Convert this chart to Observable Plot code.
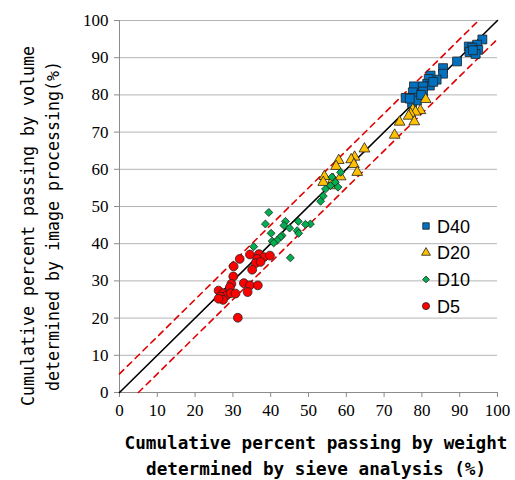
<!DOCTYPE html>
<html>
<head>
<meta charset="utf-8">
<script src="https://cdn.jsdelivr.net/npm/d3@7"></script>
<script src="https://cdn.jsdelivr.net/npm/@observablehq/plot@0.6"></script>
<style>
  html, body { margin: 0; padding: 0; background: #fff; }
  #chart svg { display: block; }
  #chart svg g[aria-label$="tick label"] text,
  #chart svg g[aria-label$="tick label"] {
    font-family: "Liberation Serif", "Times New Roman", serif !important;
    font-size: 17px !important;
  }
  #chart svg text.xtitle {
    font-family: "DejaVu Sans Mono", monospace !important;
    font-weight: bold; font-size: 18px;
  }
  #chart svg text.ytitle {
    font-family: "DejaVu Sans Mono", monospace !important;
    font-size: 18px;
  }
  #chart svg text.legtext {
    font-family: "Liberation Sans", Arial, sans-serif !important;
    font-size: 18px;
  }
</style>
</head>
<body>
<div id="chart"></div>
<script>
// ---- data ----
const ticks = [0, 10, 20, 30, 40, 50, 60, 70, 80, 90, 100];
const seriesNames = ["D40", "D20", "D10", "D5"];

const d40 = [[96.0,94.9],[94.6,93.5],[92.4,93.0],[93.3,92.7],[94.9,92.1],[92.6,91.5],[94.2,91.0],[93.5,92.0],[89.3,89.0],[85.6,87.2],[85.6,85.7],[83.9,84.1],[82.3,85.2],[81.8,84.3],[81.4,83.0],[82.1,82.5],[80.3,82.3],[80.3,80.9],[77.9,82.3],[77.6,80.7],[75.7,79.2],[77.7,79.2],[77.4,77.8],[78.7,78.5],[76.8,79.0],[79.8,80.0],[83.0,83.5]];
const d20 = [[81.0,78.8],[79.6,75.8],[77.6,76.1],[78.3,75.4],[77.0,74.9],[76.5,74.3],[78.0,72.8],[74.1,72.7],[72.8,69.2],[64.8,65.5],[62.2,63.3],[61.3,62.6],[62.0,61.3],[58.0,62.4],[57.3,60.8],[62.9,59.2],[54.2,58.1],[53.9,56.5],[55.8,55.6],[56.5,57.3],[58.5,58.0]];
const d10 = [[58.5,59.2],[56.2,57.9],[57.1,56.5],[55.8,55.6],[57.8,55.2],[54.5,54.7],[53.9,52.8],[53.2,51.4],[39.5,48.4],[38.6,45.3],[43.9,46.0],[43.5,44.9],[47.3,46.0],[50.5,45.3],[49.2,45.2],[47.0,43.5],[47.4,42.8],[45.0,44.2],[43.0,42.2],[40.1,42.8],[42.6,41.8],[40.4,40.7],[41.7,40.9],[40.8,40.2],[35.5,39.2],[45.2,36.2]];
const d5 = [[34.5,37.1],[36.9,37.2],[38.2,36.4],[39.8,36.8],[36.4,35.9],[36.0,34.8],[37.3,35.1],[31.8,35.9],[30.2,33.9],[35.1,33.0],[30.1,31.2],[32.9,29.4],[34.5,28.8],[36.6,28.8],[33.9,27.0],[29.6,29.2],[29.2,28.3],[26.2,27.4],[27.4,26.7],[28.3,26.1],[29.4,26.7],[30.7,26.6],[26.7,25.8],[27.4,24.9],[26.2,25.2],[31.3,20.1]];

// reference lines: 1:1 and ±5 %
const oneToOne = [[0,0],[100,100]];
const upperBand = [[0,5],[95,100]];
const lowerBand = [[5,0],[100,95]];

// ---- styles ----
const styles = {
  D40: {symbol: "square", fill: "#0070C0", r: 5.0},
  D20: {symbol: "triangle", fill: "#FFC000", r: 4.0},
  D10: {symbol: "diamond2", fill: "#00B050", r: 3.6},
  D5:  {symbol: "circle", fill: "#FF0000", r: 4.4}
};
const seriesData = {D40: d40, D20: d20, D10: d10, D5: d5};

const W = 515, H = 480;
const mL = 119, mR = 18, mT = 20, mB = 88;
const gray = "#8c8c8c";

const marks = [
  Plot.gridY(ticks.slice(1), {stroke: "#b4b4b4", strokeOpacity: 1, strokeWidth: 1}),
  Plot.ruleX([0], {stroke: gray}),
  Plot.ruleY([0], {stroke: gray}),
  Plot.axisY(ticks, {tickSize: 5, tickPadding: 6, fontSize: 17, label: null}),
  Plot.axisX(ticks, {tickSize: 5, tickPadding: 6, fontSize: 17, label: null}),
  Plot.line(upperBand, {x: d => d[0], y: d => d[1], stroke: "#E00000", strokeWidth: 1.6, strokeDasharray: "6,5"}),
  Plot.line(lowerBand, {x: d => d[0], y: d => d[1], stroke: "#E00000", strokeWidth: 1.6, strokeDasharray: "6,5"}),
  Plot.line(oneToOne, {x: d => d[0], y: d => d[1], stroke: "#000", strokeWidth: 1.6})
];
for (const name of seriesNames) {
  const s = styles[name];
  marks.push(Plot.dot(seriesData[name], {
    x: d => d[0], y: d => d[1], symbol: () => s.symbol, fill: s.fill,
    stroke: "#222", strokeWidth: 0.8, r: s.r
  }));
}

const chart = Plot.plot({
  width: W, height: H,
  marginLeft: mL, marginRight: mR, marginTop: mT, marginBottom: mB,
  x: {domain: [0, 100], axis: null},
  y: {domain: [0, 100], axis: null},
  symbol: {type: "identity"},
  style: {background: "#fff"},
  marks
});

const svg = d3.select(chart);
// gray tick marks, black labels
svg.selectAll('g[aria-label="x-axis tick"], g[aria-label="y-axis tick"]').attr("stroke", gray);
svg.selectAll('g[aria-label$="tick label"]').attr("fill", "#000").attr("stroke", null);

// x-axis title (two lines, bold, monospaced gothic-like)
const xTitle = ["Cumulative percent passing by weight", "determined by sieve analysis (%)"];
const xLen = [383, 340];
const xBase = [449, 475];
const xCx = [316, 316];
xTitle.forEach((t, i) => {
  svg.append("text")
    .attr("class", "xtitle")
    .attr("x", xCx[i]).attr("y", xBase[i])
    .attr("text-anchor", "middle")
    .attr("textLength", xLen[i])
    .attr("lengthAdjust", "spacingAndGlyphs")
    .attr("fill", "#000")
    .text(t);
});

// y-axis title (two lines, rotated)
const yTitle = ["Cumulative percent passing by volume", "determined by image processing(%)"];
const yLen = [360, 330];
const yBaseX = [34, 59];
const yCy = [226, 226];
yTitle.forEach((t, i) => {
  svg.append("text")
    .attr("class", "ytitle")
    .attr("transform", `translate(${yBaseX[i]},${yCy[i]}) rotate(-90)`)
    .attr("text-anchor", "middle")
    .attr("textLength", yLen[i])
    .attr("lengthAdjust", "spacingAndGlyphs")
    .attr("fill", "#000")
    .text(t);
});

// legend
const legX = 426, legY0 = 226, legDy = 26.7;
const legSym = {
  square: d3.symbolSquare, triangle: d3.symbolTriangle,
  diamond2: d3.symbolDiamond2, circle: d3.symbolCircle
};
const legSize = {D40: 42, D20: 34, D10: 30, D5: 40};
const leg = svg.append("g").attr("text-anchor", "start");
seriesNames.forEach((name, i) => {
  const s = styles[name];
  const y = legY0 + i * legDy;
  leg.append("path")
    .attr("d", d3.symbol(legSym[s.symbol], legSize[name])())
    .attr("transform", `translate(${legX},${y})`)
    .attr("fill", s.fill).attr("stroke", "#222").attr("stroke-width", 0.8);
  leg.append("text")
    .attr("class", "legtext")
    .attr("x", legX + 11).attr("y", y + 6.5)
    .attr("text-anchor", "start")
    .attr("fill", "#000")
    .text(name);
});

document.getElementById("chart").appendChild(chart);
</script>
</body>
</html>
